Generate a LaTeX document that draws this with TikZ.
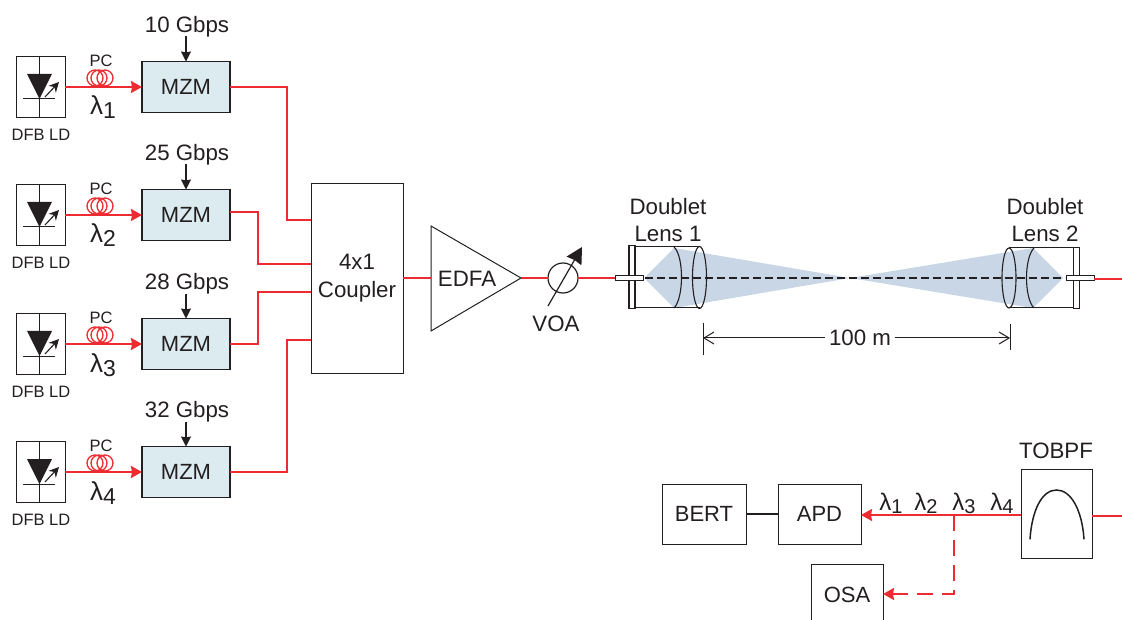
\documentclass[tikz,border=0pt]{standalone}
\usepackage{fontspec}
\setmainfont{Liberation Sans}
\usetikzlibrary{arrows.meta,calc,shapes.geometric}
\definecolor{wire}{HTML}{EE2B30}
\definecolor{ink}{HTML}{231F20}
\definecolor{mzmfill}{HTML}{DCEBF0}
\definecolor{beam}{HTML}{C9D6E6}
\tikzset{
  x=1pt,y=-1pt,
  every node/.style={text=ink,inner sep=0pt,outer sep=0pt},
  bx/.style={draw=ink,line width=1pt,rectangle,font=\fontsize{22}{24}\selectfont},
  mzmbox/.style={bx,line width=1.3pt,fill=mzmfill,minimum width=88pt,minimum height=51pt},
  ldbox/.style={draw=ink,line width=1pt,rectangle,minimum width=49pt,minimum height=61pt},
  lab/.style={font=\fontsize{22.3}{25}\selectfont},
  smalllab/.style={font=\fontsize{16.5}{18}\selectfont},
  lam/.style={font=\fontsize{26}{28}\selectfont},
  lamb/.style={font=\fontsize{24}{26}\selectfont},
  redw/.style={draw=wire,line width=2pt},
  redarrow/.style={redw,-{Stealth[length=11pt,width=12pt,inset=1pt]}},
  blackarrow/.style={draw=ink,line width=1.1pt,-{Stealth[length=10pt,width=10pt,inset=1pt]}},
  thin line/.style={draw=ink,line width=1pt},
}
\begin{document}
\begin{tikzpicture}
\useasboundingbox (0,0) rectangle (1122,620);
\begin{scope}
\clip (0,0) rectangle (1122,620);
% ---- transmitters
\foreach \i/\yy/\rate/\tx in {1/87/10 Gbps/36,2/215/25 Gbps/164,3/344/28 Gbps/294,4/472/32 Gbps/422}{
  \node[ldbox] (ld\i) at (40.5,\yy) {};
  \draw[thin line] (ld\i.north) ++(-1,0) -- ($(ld\i.south)+(-1,0)$);
  \fill[ink] (27,\yy-13) -- (52,\yy-13) -- (39.5,\yy+12) -- cycle;
  \draw[thin line] (23,\yy+12) -- (55,\yy+12);
  \draw[draw=ink,line width=1.1pt,-{Stealth[length=10pt,width=10pt]}] (45,\yy+10) -- (59,\yy-5);
  \node[smalllab] at (41,\yy+48) {DFB LD};
  \node[mzmbox] (mzm\i) at (186,\yy) {MZM};
  \node[smalllab] at (101,\yy-26) {PC};
  \foreach \cx in {95,99,105} \draw[draw=wire,line width=1.3pt] (\cx,\yy-9) circle (8);
  \draw[redarrow] (ld\i.east) -- (mzm\i.west);
  \node[lab] at (187,\yy-60) {\rate};
  \coordinate (rate\i) at (186,\tx);
  \draw[blackarrow] (rate\i) -- (mzm\i.north);
  \node[lam,anchor=base] at (103,\yy+28) {λ\raisebox{-4pt}{\fontsize{23}{26}\selectfont \i}};
}
% ---- coupler
\node[bx,minimum width=92pt,minimum height=189pt] (coupler) at (357,278.5) {};
\node[lab,align=center] at (357,278) {4x1\\[3pt]Coupler};
\coordinate (c1) at (311,220);
\coordinate (c2) at (311,264);
\coordinate (c3) at (311,292);
\coordinate (c4) at (311,340);
\draw[redw] (mzm1.east) -- (287,87) -- (287,220) -- (c1);
\draw[redw] (230,212) -- (258,212) -- (258,264) -- (c2);
\draw[redw] (mzm3.east) -- (258,344) -- (258,292) -- (c3);
\draw[redw] (mzm4.east) -- (287,472) -- (287,340) -- (c4);
% ---- EDFA
\coordinate (edfaW) at (431,278);
\coordinate (edfaE) at (521,278);
\draw[thin line,line join=miter] (431,226) -- (521,278) -- (431,331) -- cycle;
\node[lab] (edfa) at (467,279) {EDFA};
\draw[redw] (coupler.east |- edfaW) -- (edfaW);
% ---- VOA
\node[circle,draw=ink,line width=1.2pt,minimum size=30pt] (voa) at (563,278) {};
\draw[redw] (edfaE) -- (voa.west);
\coordinate (voaA) at (548,306);
\coordinate (voaB) at (582,247);
\draw[draw=ink,line width=1.2pt,-{Stealth[length=16pt,width=17pt,inset=1pt]}] (voaA) -- (voaB);
\node[lab] at (556,324) {VOA};
% ---- free space beam
\fill[beam] (644,278) -- (674,248) -- (850,278) -- (1033,248) -- (1063,278) -- (1033,308) -- (850,278) -- (674,308) -- cycle;
% lens 1
\node[draw=ink,line width=1.1pt,fill=white,rectangle,minimum width=6pt,minimum height=63pt] (fl1) at (632,277) {};
\draw[thin line] (635,246.5) -- (700,246.5);
\draw[thin line] (635,308) -- (700,308);
\draw[draw=ink,line width=1.1pt] (674,247) .. controls (684,256) and (684,298) .. (674,308);
\draw[draw=ink,line width=1.1pt] (699.5,277.5) ellipse (7 and 31);
% lens 2
\node[draw=ink,line width=1.1pt,fill=white,rectangle,minimum width=6pt,minimum height=61pt] (fl2) at (1076.5,278) {};
\draw[thin line] (1009,248) -- (1073,248);
\draw[thin line] (1009,308) -- (1073,308);
\draw[draw=ink,line width=1.1pt] (1034,248) .. controls (1024,258) and (1024,298) .. (1034,308);
\draw[draw=ink,line width=1.1pt] (1009,278) ellipse (7 and 30);
% beam axis
\coordinate (ax1) at (645,278);
\coordinate (ax2) at (1065,278);
\draw[draw=ink,line width=2.2pt,dash pattern=on 8pt off 4pt] (ax1) -- (ax2);
% ferrules
\node[draw=ink,fill=white,line width=1pt,rectangle,minimum width=28pt,minimum height=5pt] (fer1) at (629,278.5) {};
\node[draw=ink,fill=white,line width=1pt,rectangle,minimum width=28pt,minimum height=5pt] (fer2) at (1080,278.5) {};
\draw[redw] (voa.east) -- (fer1.west |- voa.east);
\coordinate (rightedge) at (1122,279);
\draw[redw] (fer2.east |- rightedge) -- (rightedge);
\node[lab] at (668,207) {Doublet};
\node[lab] at (668,234) {Lens 1};
\node[lab] at (1045,207) {Doublet};
\node[lab] at (1045,234) {Lens 2};
% ---- 100 m
\coordinate (d1) at (703,338);
\coordinate (d2) at (1010,338);
\draw[thin line] (703,323) -- (703,355);
\draw[thin line] (1010,324) -- (1010,350);
\node[lab] (dist) at (860,338) {100 m};
\draw[draw=ink,line width=1pt,-{Straight Barb[length=10pt,width=12pt]}] (dist.west |- d1) ++(-4,0) -- (d1);
\draw[draw=ink,line width=1pt,-{Straight Barb[length=10pt,width=12pt]}] (dist.east |- d2) ++(4,0) -- (d2);
% ---- receiver
\node[bx,minimum width=84pt,minimum height=60pt] (bert) at (704,514) {BERT};
\node[bx,minimum width=83pt,minimum height=60pt] (apd) at (819.5,514) {APD};
\draw[draw=ink,line width=2pt] (bert.east) -- (apd.west);
\node[bx,minimum width=71pt,minimum height=89pt] (tobpf) at (1056.5,513.5) {};
\node[lab] at (1056,451) {TOBPF};
\draw[draw=ink,line width=1.5pt,line cap=round] (1030,539) .. controls (1032,510) and (1042,490) .. (1056.5,490) .. controls (1071,490) and (1082,510) .. (1084,539);
\node[bx,minimum width=72pt,minimum height=62pt] (osa) at (847,595) {OSA};
\coordinate (rxline) at (1000,515);
\coordinate (osaline) at (900,594);
\draw[redarrow] (tobpf.west |- rxline) -- (apd.east |- rxline);
\coordinate (tap) at (954,515);
\draw[redw,dash pattern=on 16pt off 9pt,-{Stealth[length=11pt,width=12pt,inset=1pt]}] (tap) -- (954,594) -- (osa.east |- osaline);
\coordinate (rightedge2) at (1122,516);
\draw[redw] (tobpf.east |- rightedge2) -- (rightedge2);
\foreach \lx/\i in {891/1,926/2,964/3,1002/4}
  \node[lamb,anchor=base] at (\lx,510) {λ\raisebox{-3pt}{\fontsize{20}{22}\selectfont \i}};
\end{scope}
\end{tikzpicture}
\end{document}
